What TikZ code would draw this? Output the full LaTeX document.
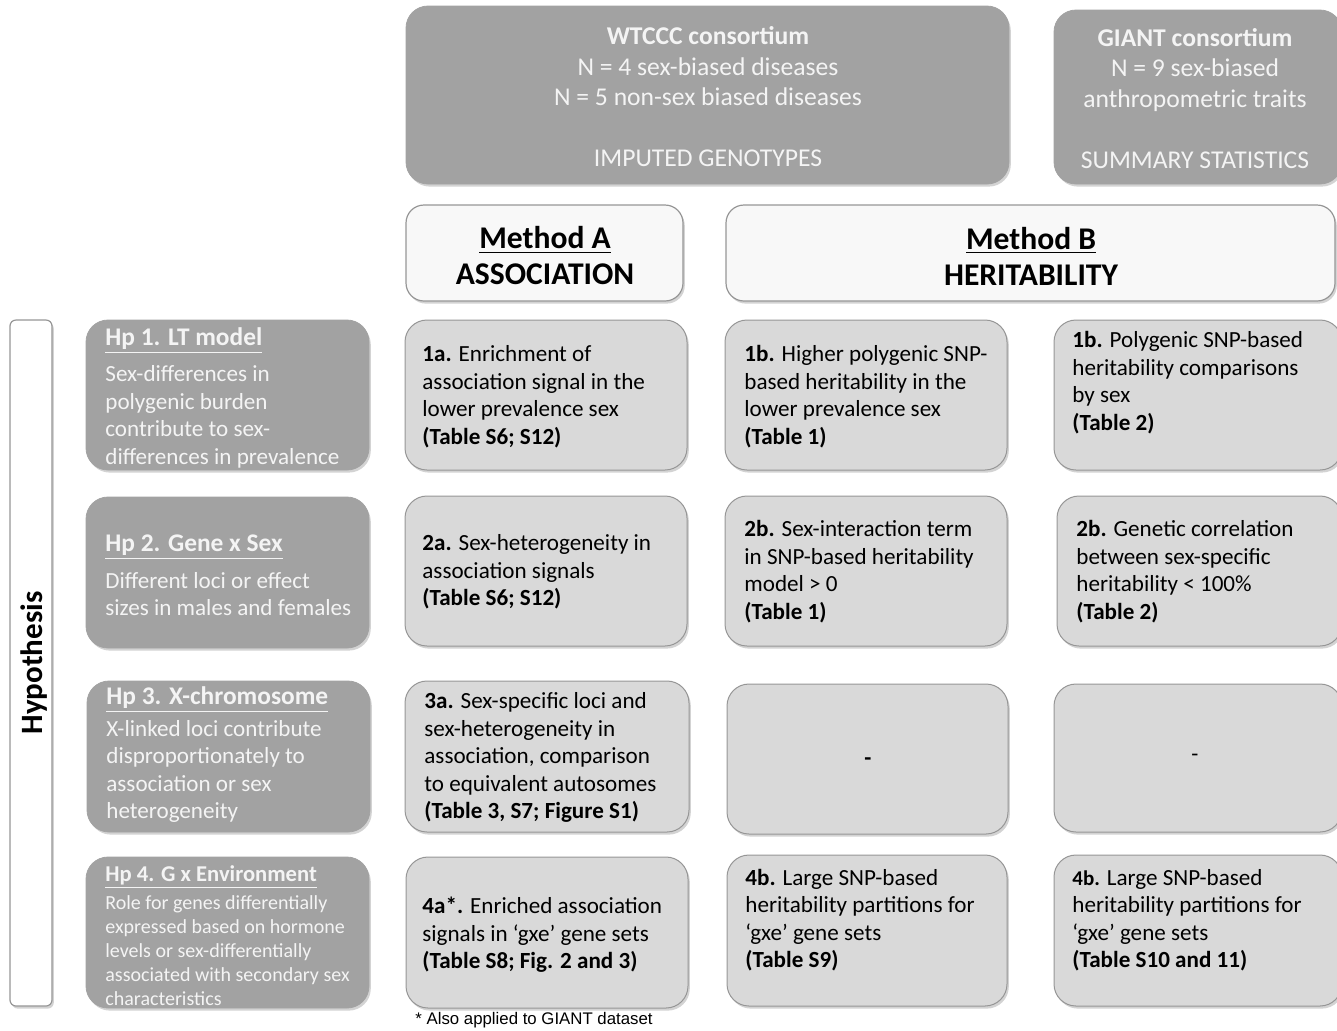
\documentclass[tikz,border=0pt]{standalone}
\usepackage{fontspec}
\setmainfont{Carlito}
\newfontfamily\arialf{Liberation Sans}
\usetikzlibrary{shadows,fit}
\definecolor{darkbox}{RGB}{162,162,162}
\definecolor{lightbox}{RGB}{217,217,217}
\definecolor{boxline}{RGB}{150,150,150}
\definecolor{wtext}{RGB}{244,244,244}
\definecolor{methfill}{RGB}{248,248,248}
\tikzset{
  shd/.style={drop shadow={opacity=0.35, shadow xshift=0.9pt, shadow yshift=-1.3pt}},
  dbox/.style={rounded corners=11pt, fill=darkbox, draw=darkbox, inner sep=0pt, shd},
  lbox/.style={rounded corners=11pt, fill=lightbox, draw=boxline, line width=0.5pt, inner sep=0pt, shd},
  mbox/.style={rounded corners=9pt, fill=methfill, draw=boxline, line width=0.6pt, inner sep=0pt, shd},
  hbar/.style={rounded corners=3pt, fill=white, draw=boxline, line width=0.6pt, inner sep=0pt, shd},
  txt/.style={anchor=west, align=left, inner sep=0pt, text=black, font=\fontsize{11.55}{13.75}\selectfont},
  wtxt/.style={txt, text=wtext},
  ctxt/.style={align=center, inner sep=0pt, text=wtext, font=\fontsize{12.8}{15.25}\selectfont},
}
\newcommand{\ttl}[1]{{\fontsize{12.7}{13.75}\selectfont\bfseries\underline{#1}}}
\begin{document}
\begin{tikzpicture}[x=0.5pt, y=-0.5pt]
\useasboundingbox (0,0) rectangle (1337,1030);
% top data boxes
\node[dbox, fit={(406,6) (1009,184)}] (wtccc) {};
\node[ctxt] (wtccct) at (708,97) {\textbf{WTCCC consortium}\\N = 4 sex-biased diseases\\N = 5 non-sex biased diseases\\[15.25pt]IMPUTED GENOTYPES};
\node[dbox, fit={(1054,10) (1342,184)}] (giant) {};
\node[ctxt] (giantt) at (1195,98.5) {\textbf{GIANT consortium}\\N = 9 sex-biased\\anthropometric traits\\[15.25pt]SUMMARY STATISTICS};
% method boxes
\node[mbox, fit={(406,205) (683,301)}] (metha) {};
\node[align=center, inner sep=0pt, font=\fontsize{15.8}{18}\selectfont\bfseries] (methat) at (545,256) {\underline{Method A}\\ASSOCIATION};
\node[mbox, fit={(726,205) (1335,301)}] (methb) {};
\node[align=center, inner sep=0pt, font=\fontsize{15.8}{18}\selectfont\bfseries] (methbt) at (1031,256) {\underline{Method B}\\HERITABILITY};
% hypothesis bar
\node[hbar, fit={(10,320) (52,1006)}] (hyp) {};
\node[rotate=90, inner sep=0pt, font=\fontsize{15.5}{18}\selectfont\bfseries] (hypt) at (34,663) {Hypothesis};
% hypothesis boxes
\node[dbox, fit={(86,320) (369,470)}] (hp1) {};
\node[wtxt] (hp1t) at (105,398) {\ttl{Hp 1. LT model}\\[4.3pt]Sex-differences in\\polygenic burden\\contribute to sex-\\differences in prevalence};
\node[dbox, fit={(86,497) (369,648)}] (hp2) {};
\node[wtxt] (hp2t) at (105,575.5) {\ttl{Hp 2. Gene x Sex}\\[4.3pt]Different loci or effect\\sizes in males and females};
\node[dbox, fit={(87,681) (370,832)}] (hp3) {};
\node[wtxt] (hp3t) at (106,754.5) {\ttl{Hp 3. X-chromosome}\\[2.3pt]X-linked loci contribute\\disproportionately to\\association or sex\\heterogeneity};
\node[dbox, fit={(86,857) (369,1008)}] (hp4) {};
\node[wtxt, font=\fontsize{10}{12}\selectfont] (hp4t) at (105,935.5) {{\fontsize{11.3}{12}\selectfont\bfseries\underline{Hp 4. G x Environment}}\\[2pt]Role for genes differentially\\expressed based on hormone\\levels or sex-differentially\\associated with secondary sex\\characteristics};
% row 1
\node[lbox, fit={(405,320) (687,470)}] (b1a) {};
\node[txt] (b1at) at (422,396.5) {\textbf{1a.} Enrichment of\\association signal in the\\lower prevalence sex\\\textbf{(Table S6; S12)}};
\node[lbox, fit={(725,320) (1007,470)}] (b1b) {};
\node[txt] (b1bt) at (744,396.5) {\textbf{1b.} Higher polygenic SNP-\\based heritability in the\\lower prevalence sex\\\textbf{(Table 1)}};
\node[lbox, fit={(1054,320) (1342,470)}] (b1c) {};
\node[txt] (b1ct) at (1072,382.5) {\textbf{1b.} Polygenic SNP-based\\heritability comparisons\\by sex\\\textbf{(Table 2)}};
% row 2
\node[lbox, fit={(405,496) (687,646)}] (b2a) {};
\node[txt] (b2at) at (422,572) {\textbf{2a.} Sex-heterogeneity in\\association signals\\\textbf{(Table S6; S12)}};
\node[lbox, fit={(725,496) (1007,646)}] (b2b) {};
\node[txt] (b2bt) at (744,571.5) {\textbf{2b.} Sex-interaction term\\in SNP-based heritability\\model > 0\\\textbf{(Table 1)}};
\node[lbox, fit={(1057,496) (1342,646)}] (b2c) {};
\node[txt] (b2ct) at (1076,571.5) {\textbf{2b.} Genetic correlation\\between sex-specific\\heritability < 100\%\\\textbf{(Table 2)}};
% row 3
\node[lbox, fit={(405,681) (689,832)}] (b3a) {};
\node[txt] (b3at) at (424,757.5) {\textbf{3a.} Sex-specific loci and\\sex-heterogeneity in\\association, comparison\\to equivalent autosomes\\\textbf{(Table 3, S7; Figure S1)}};
\node[lbox, fit={(727,684) (1008,834)}] (b3b) {};
\node[inner sep=0pt, font=\fontsize{11.5}{13.75}\selectfont\bfseries] (b3bt) at (868,762) {-};
\node[lbox, fit={(1054,684) (1342,832)}] (b3c) {};
\node[inner sep=0pt, font=\fontsize{11.5}{13.75}\selectfont] (b3ct) at (1195,758) {-};
% row 4
\node[lbox, fit={(406,857) (688,1008)}] (b4a) {};
\node[txt] (b4at) at (422,935) {\textbf{4a*.} Enriched association\\signals in ‘gxe’ gene sets\\\textbf{(Table S8; Fig. 2 and 3)}};
\node[lbox, fit={(727,855) (1007,1006)}] (b4b) {};
\node[txt] (b4bt) at (745,920) {\textbf{4b.} Large SNP-based\\heritability partitions for\\‘gxe’ gene sets\\\textbf{(Table S9)}};
\node[lbox, fit={(1054,855) (1342,1006)}] (b4c) {};
\node[txt] (b4ct) at (1072,920) {{\fontsize{10.5}{13.75}\selectfont\textbf{4b.}} Large SNP-based\\heritability partitions for\\‘gxe’ gene sets\\\textbf{(Table S10 and 11)}};
% footnote
\node[anchor=west, inner sep=0pt, font=\arialf\fontsize{8.4}{10}\selectfont] (foot) at (415,1020) {* Also applied to GIANT dataset};
\end{tikzpicture}
\end{document}
